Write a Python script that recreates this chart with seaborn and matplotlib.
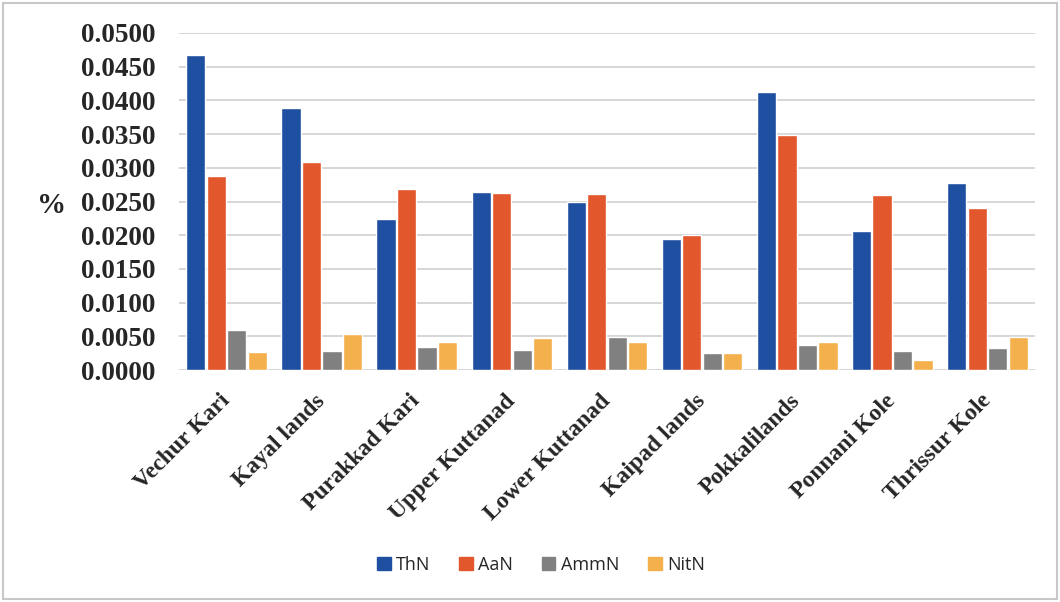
import matplotlib
matplotlib.use("Agg")
import matplotlib.pyplot as plt
import matplotlib.patches as mpatches
import seaborn as sns
import pandas as pd

sites = ["Vechur Kari", "Kayal lands", "Purakkad Kari", "Upper Kuttanad",
         "Lower Kuttanad", "Kaipad lands", "Pokkalilands", "Ponnani Kole",
         "Thrissur Kole"]
ThN = [0.0467, 0.0389, 0.0224, 0.0264, 0.0249, 0.0195, 0.0413, 0.0206, 0.0278]
AaN = [0.0288, 0.0308, 0.0268, 0.0263, 0.0261, 0.0201, 0.0349, 0.0259, 0.0241]
AmmN = [0.0060, 0.0028, 0.0034, 0.0030, 0.0049, 0.0025, 0.0037, 0.0028, 0.0033]
NitN = [0.0026, 0.0054, 0.0041, 0.0047, 0.0041, 0.0025, 0.0042, 0.0015, 0.0049]
series_names = ["ThN", "AaN", "AmmN", "NitN"]
yticks = [0.0, 0.005, 0.010, 0.015, 0.020, 0.025, 0.030, 0.035, 0.040, 0.045, 0.050]

colors = ["#1F4FA0", "#E2572B", "#808080", "#F5B04E"]

rows = []
for name, vals in zip(series_names, [ThN, AaN, AmmN, NitN]):
    for s, v in zip(sites, vals):
        rows.append({"site": s, "form": name, "value": v})
df = pd.DataFrame(rows)

sns.set_theme(style="white")
fig = plt.figure(figsize=(10.6, 6.02), dpi=100)
ax = fig.add_axes([179 / 1060, 1 - 370 / 602, (1035 - 179) / 1060, (370 - 33) / 602])

sns.barplot(data=df, x="site", y="value", hue="form", order=sites,
            hue_order=series_names, palette=colors, width=0.86, gap=0.06,
            saturation=1, ax=ax, legend=True)

ax.set_ylim(0, 0.05)
ax.set_xlim(-0.5, len(sites) - 0.5)
ax.set_yticks(yticks)
ax.set_yticklabels([f"{t:.4f}" for t in yticks],
                   fontfamily="Liberation Serif", fontweight="bold", fontsize=19.5)
ax.yaxis.grid(True, color="#cfcfcf", linewidth=1.2)
ax.set_axisbelow(True)
for sp in ax.spines.values():
    sp.set_visible(False)
ax.tick_params(axis="y", length=0, pad=17)
ax.tick_params(axis="x", length=0, pad=20)
ax.set_xticks(range(len(sites)))
ax.set_xticklabels(sites, rotation=45, ha="right", va="center",
                   rotation_mode="anchor",
                   fontfamily="Liberation Serif", fontweight="bold", fontsize=17)
ax.set_xlabel("")
ax.set_ylabel("")
fig.text(52 / 1060, 1 - 205 / 602, "%", fontfamily="Liberation Serif",
         fontweight="bold", fontsize=21, ha="center", va="center")

ax.legend_.remove()
handles = [mpatches.Patch(color=c, label=n) for c, n in zip(colors, series_names)]
fig.legend(handles=handles, loc="center", bbox_to_anchor=(541 / 1060, 1 - 565 / 602),
           ncol=4, frameon=False, prop={"family": "Open Sans", "size": 13},
           handlelength=0.75, handleheight=0.75, handletextpad=0.3, columnspacing=1.6)

fig.patches.append(mpatches.Rectangle((3 / 1060, 3 / 602), 1054 / 1060, 596 / 602,
                                      transform=fig.transFigure, fill=False,
                                      edgecolor="#c8c8c8", linewidth=1.5))

fig.savefig("out.png", dpi=100)
